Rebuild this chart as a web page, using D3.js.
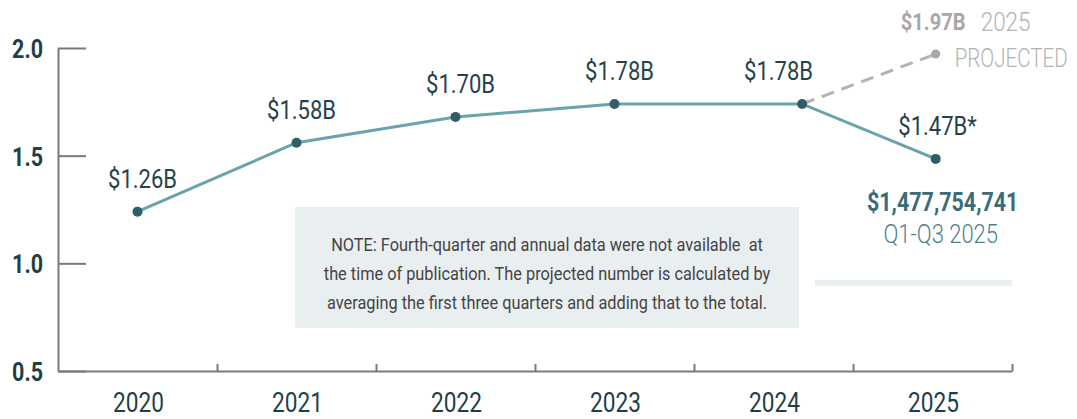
<!DOCTYPE html>
<html>
<head>
<meta charset="utf-8">
<script src="https://cdn.jsdelivr.net/npm/d3@7"></script>
<style>
  body { margin: 0; background: #fff; }
  svg { display: block; font-family: Roboto, "Noto Sans", sans-serif; }
</style>
</head>
<body>
<div id="chart"></div>
<script>
// Data
const years       = [2020, 2021, 2022, 2023, 2024, 2025];
const pointYears  = [2020, 2021, 2022, 2023, 2024.18, 2025.02]; // 2024 point sits right of its band
const values      = [1.24, 1.56, 1.68, 1.74, 1.74, 1.485];     // billions, as plotted
const valueLabels = ["$1.26B", "$1.58B", "$1.70B", "$1.78B", "$1.78B", "$1.47B*"];
const projected   = { year: 2025.02, value: 1.972, label: "$1.97B", sub1: "2025", sub2: "PROJECTED" };
const partial     = { amount: "$1,477,754,741", period: "Q1-Q3 2025" };
const yTicks      = [0.5, 1.0, 1.5, 2.0];
const noteLines   = [
  "NOTE: Fourth-quarter and annual data were not available  at",
  "the time of publication. The projected number is calculated by",
  "averaging the first three quarters and adding that to the total."
];

const W = 1077, H = 419;
const plot = { left: 58, right: 1012, top: 48, bottom: 371 };

const dark  = "#1f3f48";
const teal  = "#6aa3ad";
const dotC  = "#2f5d68";
const gray  = "#b3b3b3";
const axisC = "#7a7a7a";
const boxC  = "#e9eff0";

const svg = d3.select("#chart").append("svg")
  .attr("width", W)
  .attr("height", H);

// condensed text: no narrow font is installed, so squeeze horizontally
function put(parent, str, x, y, o) {
  return parent.append("text")
    .attr("transform", `translate(${x},${y}) scale(${o.sx},1)`)
    .attr("text-anchor", o.anchor || "start")
    .attr("font-size", o.size)
    .attr("font-weight", o.weight || 400)
    .attr("fill", o.fill)
    .style("white-space", "pre")
    .text(str);
}

// Scales
const x = d3.scaleLinear()
  .domain([years[0] - 0.5, years[years.length - 1] + 0.5])
  .range([plot.left, plot.right]);

const y = d3.scaleLinear()
  .domain([0.5, 2.0])
  .range([plot.bottom, plot.top]);

// Note box + light bar beside it
svg.append("rect")
  .attr("x", 295).attr("y", 207)
  .attr("width", 504).attr("height", 121)
  .attr("fill", boxC);

svg.append("rect")
  .attr("x", 815).attr("y", 280)
  .attr("width", plot.right - 815).attr("height", 6)
  .attr("fill", boxC);

const note = svg.append("g");
noteLines.forEach((t, i) => {
  put(note, t, 547, 251 + i * 29, { sx: 0.86, size: 19, anchor: "middle", fill: "#444" });
});

// Y axis
const yAxis = svg.append("g")
  .attr("transform", `translate(${plot.left},0)`)
  .call(d3.axisLeft(y).tickValues(yTicks).tickSize(-28).tickSizeOuter(0).tickFormat(""));

yAxis.select(".domain").attr("stroke", axisC).attr("stroke-width", 2);
yAxis.selectAll(".tick line").attr("stroke", axisC).attr("stroke-width", 2);

const yLab = svg.append("g");
yTicks.forEach(t => {
  put(yLab, d3.format(".1f")(t), 43, y(t) + 10, { sx: 0.86, size: 25, weight: 700, anchor: "end", fill: dark });
});

// X axis: ticks at band edges, labels at centres
const edges = years.map(d => d + 0.5);
const xAxis = svg.append("g")
  .attr("transform", `translate(0,${plot.bottom})`)
  .call(d3.axisBottom(x).tickValues(edges).tickSize(-7).tickSizeOuter(0).tickFormat(""));

xAxis.select(".domain").attr("stroke", axisC).attr("stroke-width", 2);
xAxis.selectAll(".tick line").attr("stroke", axisC).attr("stroke-width", 2);

const xLab = svg.append("g");
years.forEach(yr => {
  put(xLab, String(yr), x(yr) + 1, 412, { sx: 0.84, size: 27, anchor: "middle", fill: dark });
});

// Projected dashed segment
const last = values.length - 1;
svg.append("line")
  .attr("x1", x(pointYears[last - 1])).attr("y1", y(values[last - 1]))
  .attr("x2", x(projected.year)).attr("y2", y(projected.value))
  .attr("stroke", gray)
  .attr("stroke-width", 3)
  .attr("stroke-dasharray", "13,8");

svg.append("circle")
  .attr("cx", x(projected.year)).attr("cy", y(projected.value))
  .attr("r", 4.5)
  .attr("fill", "#a9a9a9");

// Main line
const pts = values.map((v, i) => ({ yr: pointYears[i], v: v, label: valueLabels[i], band: years[i] }));

const line = d3.line()
  .x(d => x(d.yr))
  .y(d => y(d.v));

svg.append("path")
  .datum(pts)
  .attr("d", line)
  .attr("fill", "none")
  .attr("stroke", teal)
  .attr("stroke-width", 3);

svg.selectAll("circle.pt")
  .data(pts)
  .enter().append("circle")
    .attr("class", "pt")
    .attr("cx", d => x(d.yr))
    .attr("cy", d => y(d.v))
    .attr("r", 5)
    .attr("fill", dotC);

// Value labels
const vLab = svg.append("g");
pts.forEach(d => {
  put(vLab, d.label, x(d.band) + 5, y(d.v) - 24, { sx: 0.88, size: 25, anchor: "middle", fill: "#24434b" });
});

// Projected annotation
const px = x(projected.year);
put(svg, projected.label, px - 35, 30, { sx: 0.84, size: 24, weight: 700, fill: "#a8a8a8" });
put(svg, projected.sub1, px + 45, 31, { sx: 0.9, size: 25, weight: 300, fill: gray });
put(svg, projected.sub2, px + 19, 67, { sx: 0.79, size: 26, weight: 300, fill: gray });

// Partial-year annotation
put(svg, partial.amount, px + 7, 211, { sx: 0.86, size: 25, weight: 700, anchor: "middle", fill: "#3b6c77" });
put(svg, partial.period, px + 5, 243, { sx: 0.88, size: 25, weight: 300, anchor: "middle", fill: "#4f818b" });
</script>
</body>
</html>
